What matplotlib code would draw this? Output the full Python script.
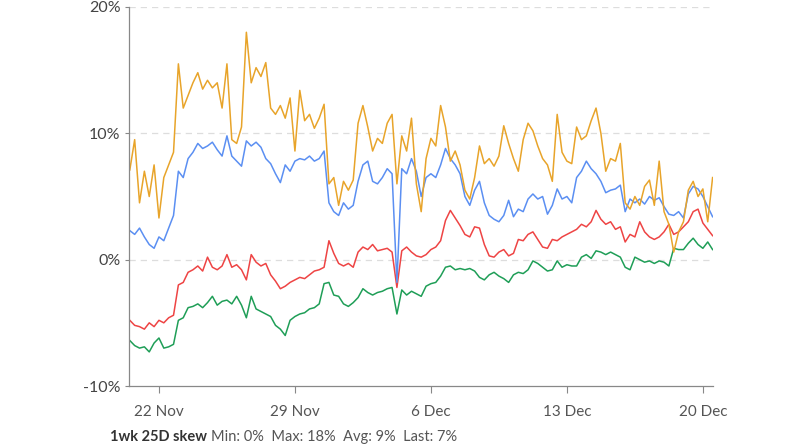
import numpy as np
import pandas as pd
import matplotlib
matplotlib.use("Agg")
import matplotlib.pyplot as plt
import matplotlib.dates as mdates

# 6-hourly readings, 20 Nov 12:00 -> 20 Dec 12:00
start = "2021-11-20 12:00"

orange = [7.1, 9.5, 4.5, 7.0, 5.0, 7.5, 3.3, 6.5, 7.5, 8.5,
          15.5, 12.0, 13.0, 14.0, 14.8, 13.5, 14.2, 13.6, 14.0, 12.0,
          15.5, 9.5, 9.2, 10.5, 18.0, 14.0, 15.2, 14.5, 15.6, 12.0,
          11.5, 12.2, 11.2, 12.8, 8.6, 13.4, 11.0, 11.5, 10.4, 11.2,
          12.3, 6.0, 6.5, 4.3, 6.2, 5.5, 6.3, 10.8, 12.2, 10.5,
          8.6, 9.6, 9.2, 10.8, 11.5, 6.0, 9.8, 8.6, 11.2, 6.0,
          3.8, 8.0, 9.6, 9.0, 12.2, 10.5, 7.8, 8.6, 7.5, 5.5,
          4.8, 6.5, 9.0, 7.6, 8.0, 7.4, 8.2, 10.6, 9.2, 8.0,
          7.0, 9.5, 10.8, 10.2, 9.0, 8.0, 7.5, 6.2, 11.5, 8.5,
          7.8, 7.6, 10.5, 9.5, 9.8, 11.0, 12.0, 10.0, 7.0, 8.0,
          7.8, 9.2, 4.5, 4.0, 5.0, 4.3, 5.8, 6.3, 4.3, 7.8,
          3.8, 2.8, 0.6, 2.2, 3.0, 5.5, 6.2, 5.0, 5.6, 3.0,
          6.5]

blue = [2.3, 2.0, 2.5, 1.8, 1.2, 0.9, 1.8, 1.5, 2.5, 3.5,
        7.0, 6.5, 8.0, 8.5, 9.2, 8.8, 9.0, 9.3, 8.7, 8.2,
        9.8, 8.2, 7.8, 7.4, 9.4, 9.0, 9.3, 8.9, 8.0, 7.6,
        6.8, 6.1, 7.5, 7.0, 7.8, 8.0, 7.9, 8.2, 7.8, 8.0,
        8.6, 4.5, 3.8, 3.5, 4.5, 4.0, 4.3, 6.2, 7.5, 7.8,
        6.2, 6.0, 6.5, 7.2, 6.8, -1.8, 7.2, 6.8, 8.0, 7.0,
        5.0, 6.5, 6.8, 6.5, 7.5, 8.8, 8.0, 7.5, 6.8, 5.0,
        4.3, 5.5, 6.2, 4.5, 3.5, 3.2, 3.0, 3.5, 4.7, 3.4,
        4.0, 3.8, 4.8, 5.2, 4.8, 5.0, 3.6, 4.3, 5.6, 4.8,
        5.0, 4.5, 6.5, 7.0, 7.8, 7.2, 6.8, 6.2, 5.3, 5.5,
        5.6, 5.9, 3.8, 4.8, 4.5, 4.8, 4.4, 5.0, 4.7, 4.9,
        4.2, 3.6, 3.5, 3.8, 3.3, 5.2, 5.8, 5.6, 5.0, 4.2,
        3.4]

red = [-4.8, -5.2, -5.3, -5.5, -5.0, -5.3, -4.8, -5.0, -4.6, -4.4,
       -2.0, -1.8, -1.0, -0.8, -0.5, -0.9, 0.2, -0.6, -0.8, -0.5,
       0.4, -0.6, -0.4, -0.8, -1.6, 0.4, -0.2, -0.5, -0.3, -1.2,
       -1.7, -2.3, -2.1, -1.8, -1.6, -1.4, -1.5, -1.2, -0.9, -0.8,
       -0.6, 1.5, 0.5, -0.3, -0.5, -0.3, -0.6, 0.6, 1.0, 0.8,
       1.2, 0.7, 0.8, 0.9, 0.6, -2.2, 0.7, 1.0, 0.6, 0.3,
       0.2, 0.4, 0.8, 1.0, 1.5, 3.1, 3.9, 3.3, 2.7, 2.0,
       1.8, 2.6, 2.5, 1.2, 0.3, 0.2, 0.6, 0.8, 0.3, 0.5,
       1.6, 1.5, 2.0, 2.2, 1.6, 1.0, 0.9, 1.6, 1.5, 1.8,
       2.0, 2.2, 2.4, 2.8, 2.6, 3.0, 3.9, 3.2, 2.8, 3.0,
       2.4, 2.6, 1.4, 2.0, 1.8, 3.0, 2.2, 1.8, 1.6, 1.8,
       2.2, 2.8, 2.0, 2.2, 2.6, 3.0, 3.8, 4.0, 2.9, 2.4,
       1.9]

green = [-6.4, -6.8, -7.0, -6.9, -7.3, -6.6, -6.2, -7.0, -6.9, -6.7,
         -4.8, -4.6, -3.8, -3.7, -3.5, -3.8, -3.4, -2.9, -3.6, -3.3,
         -3.2, -3.5, -2.9, -3.6, -4.6, -2.9, -3.9, -4.1, -4.3, -4.5,
         -5.2, -5.5, -6.0, -4.8, -4.5, -4.3, -4.2, -3.9, -3.8, -3.5,
         -1.9, -1.8, -2.8, -2.9, -3.5, -3.7, -3.4, -3.0, -2.3, -2.6,
         -2.8, -2.6, -2.5, -2.3, -2.2, -4.3, -2.4, -2.8, -2.5, -2.7,
         -2.9, -2.1, -1.9, -1.8, -1.3, -0.6, -0.5, -0.8, -0.7, -0.8,
         -0.7, -0.9, -1.4, -1.6, -1.2, -1.0, -1.3, -1.5, -1.8, -1.2,
         -1.0, -1.1, -0.8, -0.1, -0.3, -0.6, -0.9, -0.8, -0.1, -0.6,
         -0.4, -0.5, -0.5, 0.2, 0.4, 0.1, 0.7, 0.6, 0.4, 0.6,
         0.4, 0.2, -0.6, -0.8, 0.2, 0.0, -0.2, -0.1, -0.3, -0.1,
         -0.2, -0.5, 0.9, 0.8, 0.8, 1.3, 1.7, 1.2, 0.9, 1.4,
         0.8]

tick_days = ["2021-11-22", "2021-11-29", "2021-12-06", "2021-12-13", "2021-12-20"]
y_ticks = [-10, 0, 10, 20]
legend_name = "1wk 25D skew"
legend_stats = "Min: 0%  Max: 18%  Avg: 9%  Last: 7%"

plt.rcParams['font.family'] = ['Lato', 'DejaVu Sans']

t = pd.date_range(start, periods=len(orange), freq="6h")

fig = plt.figure(figsize=(8, 4.45), dpi=100)
ax = fig.add_axes([129/800, 1-386/445, (713-129)/800, (386-7)/445])

ax.plot(t, green, color='#1f9e57', lw=1.1)
ax.plot(t, red, color='#ee4444', lw=1.1)
ax.plot(t, blue, color='#5b8ff2', lw=1.1)
ax.plot(t, orange, color='#e8a42a', lw=1.1)

ax.set_ylim(-10, 20)
ax.set_xlim(pd.Timestamp("2021-11-20 11:00"), pd.Timestamp("2021-12-20 12:30"))
ax.set_yticks(y_ticks)
ax.set_yticklabels([f"{v}%" for v in y_ticks])
ax.set_xticks(pd.to_datetime(tick_days))
ax.xaxis.set_major_formatter(mdates.DateFormatter("%-d %b"))

for v in [0, 10, 20]:
    ax.axhline(v, color='#dddddd', lw=0.9, ls=(0, (5, 4)), zorder=0)

for s in ['top', 'right']:
    ax.spines[s].set_visible(False)
for s in ['left', 'bottom']:
    ax.spines[s].set_color('#888888')
    ax.spines[s].set_linewidth(0.9)

ax.tick_params(axis='x', length=5, color='#888888', labelcolor='#555555',
               labelsize=11, pad=9)
ax.tick_params(axis='y', length=3, color='#888888', labelcolor='#444444',
               labelsize=11.5, pad=3)

# bottom legend: bold name then plain stats (kept just inside the figure)
fy = 1 - 430/445
txt = fig.text(110/800, fy, legend_name, fontsize=10.5, fontweight='bold',
               color='#333333', va='top', ha='left')
fig.canvas.draw()
bb = txt.get_window_extent()
fig.text((bb.x1 + 4)/800, fy, legend_stats, fontsize=10.5,
         color='#555555', va='top', ha='left')

fig.savefig("out.png", dpi=100)
